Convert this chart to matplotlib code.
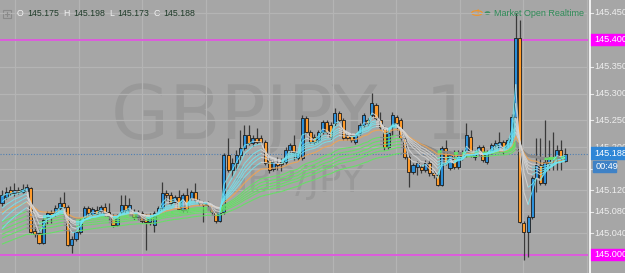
import numpy as np
import matplotlib
matplotlib.use("Agg")
import matplotlib.pyplot as plt
import matplotlib.transforms as mtrans
from matplotlib.collections import LineCollection
from matplotlib.patches import Rectangle, Circle

# ---- data: 1-minute GBPJPY bars ----
opens = [145.097, 145.108, 145.121, 145.115, 145.121, 145.117, 145.119, 145.125, 145.045, 145.041,
         145.022, 145.071, 145.078, 145.078, 145.087, 145.097, 145.089, 145.019, 145.030, 145.043,
         145.069, 145.087, 145.076, 145.084, 145.082, 145.089, 145.080, 145.072, 145.056, 145.080,
         145.093, 145.082, 145.080, 145.071, 145.078, 145.071, 145.061, 145.056, 145.078, 145.087,
         145.115, 145.112, 145.099, 145.108, 145.084, 145.112, 145.106, 145.117, 145.100, 145.097,
         145.093, 145.093, 145.080, 145.063, 145.080, 145.186, 145.158, 145.171, 145.186, 145.199,
         145.223, 145.208, 145.217, 145.217, 145.210, 145.177, 145.160, 145.171, 145.173, 145.173,
         145.195, 145.204, 145.180, 145.180, 145.255, 145.229, 145.219, 145.214, 145.229, 145.247,
         145.242, 145.245, 145.264, 145.251, 145.223, 145.223, 145.210, 145.227, 145.242, 145.251,
         145.260, 145.279, 145.251, 145.236, 145.201, 145.238, 145.257, 145.251, 145.217, 145.182,
         145.154, 145.164, 145.164, 145.158, 145.171, 145.152, 145.149, 145.130, 145.199, 145.162,
         145.180, 145.164, 145.190, 145.186, 145.219, 145.182, 145.190, 145.201, 145.173, 145.191,
         145.204, 145.195, 145.210, 145.199, 145.210, 145.257, 145.403, 145.059, 145.043, 145.071,
         145.143, 145.167, 145.134, 145.171, 145.180, 145.180, 145.195, 145.175]
highs = [145.121, 145.126, 145.128, 145.134, 145.126, 145.132, 145.132, 145.126, 145.052, 145.046,
         145.069, 145.082, 145.084, 145.093, 145.108, 145.117, 145.093, 145.035, 145.046, 145.069,
         145.091, 145.091, 145.089, 145.091, 145.093, 145.097, 145.097, 145.076, 145.076, 145.112,
         145.112, 145.106, 145.086, 145.084, 145.082, 145.076, 145.078, 145.082, 145.091, 145.136,
         145.121, 145.117, 145.112, 145.121, 145.115, 145.125, 145.121, 145.134, 145.104, 145.100,
         145.100, 145.095, 145.082, 145.082, 145.190, 145.217, 145.180, 145.195, 145.232, 145.242,
         145.242, 145.223, 145.236, 145.223, 145.214, 145.180, 145.177, 145.182, 145.180, 145.201,
         145.208, 145.223, 145.195, 145.260, 145.258, 145.232, 145.225, 145.232, 145.251, 145.251,
         145.247, 145.273, 145.268, 145.255, 145.227, 145.227, 145.227, 145.245, 145.264, 145.255,
         145.301, 145.283, 145.266, 145.240, 145.232, 145.266, 145.260, 145.255, 145.221, 145.186,
         145.171, 145.175, 145.167, 145.177, 145.177, 145.156, 145.152, 145.203, 145.214, 145.190,
         145.195, 145.195, 145.195, 145.245, 145.232, 145.195, 145.204, 145.204, 145.195, 145.208,
         145.214, 145.229, 145.214, 145.217, 145.262, 145.450, 145.437, 145.063, 145.074, 145.147,
         145.217, 145.217, 145.251, 145.214, 145.229, 145.204, 145.214, 145.198]
lows = [145.091, 145.104, 145.112, 145.110, 145.113, 145.115, 145.115, 145.041, 145.033, 145.020,
        145.020, 145.058, 145.059, 145.072, 145.084, 145.087, 145.017, 145.004, 145.026, 145.039,
        145.065, 145.074, 145.072, 145.072, 145.078, 145.072, 145.065, 145.052, 145.054, 145.076,
        145.078, 145.078, 145.065, 145.067, 145.059, 145.009, 145.056, 145.043, 145.074, 145.084,
        145.102, 145.093, 145.095, 145.082, 145.080, 145.080, 145.102, 145.099, 145.093, 145.061,
        145.089, 145.076, 145.059, 145.061, 145.076, 145.154, 145.145, 145.158, 145.177, 145.195,
        145.204, 145.203, 145.206, 145.204, 145.167, 145.152, 145.156, 145.158, 145.156, 145.169,
        145.191, 145.177, 145.177, 145.177, 145.225, 145.208, 145.206, 145.210, 145.225, 145.225,
        145.216, 145.240, 145.247, 145.214, 145.214, 145.210, 145.206, 145.223, 145.238, 145.240,
        145.257, 145.251, 145.234, 145.195, 145.197, 145.223, 145.232, 145.214, 145.178, 145.126,
        145.151, 145.149, 145.152, 145.154, 145.147, 145.143, 145.128, 145.128, 145.167, 145.158,
        145.160, 145.160, 145.177, 145.182, 145.182, 145.177, 145.186, 145.173, 145.169, 145.188,
        145.201, 145.191, 145.188, 145.195, 145.206, 145.255, 145.059, 144.991, 144.996, 145.067,
        145.117, 145.130, 145.130, 145.158, 145.158, 145.158, 145.158, 145.173]
closes = [145.112, 145.117, 145.115, 145.121, 145.117, 145.123, 145.126, 145.043, 145.039, 145.022,
          145.065, 145.078, 145.074, 145.087, 145.097, 145.089, 145.019, 145.030, 145.043, 145.065,
          145.087, 145.078, 145.086, 145.076, 145.089, 145.078, 145.072, 145.056, 145.072, 145.093,
          145.084, 145.093, 145.071, 145.078, 145.063, 145.061, 145.072, 145.078, 145.087, 145.115,
          145.112, 145.097, 145.108, 145.086, 145.112, 145.084, 145.117, 145.102, 145.097, 145.093,
          145.097, 145.080, 145.063, 145.078, 145.186, 145.158, 145.171, 145.186, 145.199, 145.223,
          145.208, 145.217, 145.210, 145.210, 145.171, 145.158, 145.173, 145.167, 145.169, 145.195,
          145.204, 145.191, 145.190, 145.255, 145.229, 145.210, 145.210, 145.229, 145.247, 145.229,
          145.219, 145.264, 145.251, 145.217, 145.217, 145.214, 145.223, 145.242, 145.260, 145.245,
          145.283, 145.255, 145.238, 145.201, 145.227, 145.260, 145.245, 145.217, 145.182, 145.154,
          145.167, 145.171, 145.158, 145.171, 145.152, 145.149, 145.130, 145.199, 145.171, 145.186,
          145.164, 145.191, 145.182, 145.223, 145.186, 145.190, 145.201, 145.177, 145.191, 145.204,
          145.208, 145.210, 145.191, 145.214, 145.257, 145.403, 145.061, 145.043, 145.071, 145.143,
          145.167, 145.134, 145.173, 145.180, 145.182, 145.195, 145.180, 145.188]

# guppy-style EMA ribbons; seeds = values at the left edge of the chart
short_periods = [3, 5, 8, 10, 12, 15]
short_seeds = [145.106, 145.093, 145.080, 145.067, 145.054, 145.039]
long_periods = [30, 35, 40, 45, 50, 60]
long_seeds = [145.058, 145.050, 145.043, 145.035, 145.028, 145.017]
mid_period, mid_seed = 20, 145.076

tick_prices = [145.45, 145.40, 145.35, 145.30, 145.25, 145.20, 145.16, 145.12, 145.08, 145.04, 145.00]
hidden_ticks = [145.16]          # label sits under the countdown box
level_lines = [145.40, 145.00]
last_price = 145.188
countdown = "00:49"
ohlc_labels = ["O", "H", "L", "C"]
ohlc_values = ["145.175", "145.198", "145.173", "145.188"]

BG, GRID = "#a6a6a6", "#b4b4b4"
UP, DN = "#2b8fd9", "#ff9b2b"
MAG, BLUE = "#ff00ff", "#2f86d6"
FONT = "Liberation Sans"


def ema(vals, n, seed):
    a, e, out = 2.0 / (n + 1), seed, []
    for v in vals:
        e += a * (v - e)
        out.append(e)
    return np.array(out)


def ribbon(ax, y, up_col, dn_col, lw=0.75, alpha=0.9, z=3):
    xs = np.arange(len(y))
    segs = [[(xs[i], y[i]), (xs[i + 1], y[i + 1])] for i in range(len(y) - 1)]
    cols = [up_col if y[i + 1] >= y[i] else dn_col for i in range(len(y) - 1)]
    ax.add_collection(LineCollection(segs, colors=cols, linewidths=lw, alpha=alpha, zorder=z))


W, H = 625, 273
fig = plt.figure(figsize=(W / 100, H / 100), dpi=100)
fig.patch.set_facecolor(BG)
ax = fig.add_axes([0, 0, 588 / W, 1])
ax.axis("off")
ax.set_xlim(-0.49, 142.58)
ax.set_ylim(144.9665, 145.474)

o, h, l, c = map(np.array, (opens, highs, lows, closes))
x = np.arange(len(c))

# grid
for p in tick_prices:
    ax.axhline(p, color=GRID, lw=0.9, zorder=0)
for gx in np.arange(3.2, 143, 15.45):
    ax.axvline(gx, color=GRID, lw=0.9, zorder=0)

# watermark
fig.text(111 / W, 1 - 139 / H, "GBPJPY, 1", fontsize=54, color="#999999",
         ha="left", va="baseline", zorder=0.5)
fig.text(292 / W, 1 - 192 / H, "GBP/JPY", fontsize=27, color="#999999",
         ha="center", va="baseline", zorder=0.5)
ax.set_zorder(1)
ax.patch.set_alpha(0)

# level lines + last price
for p in level_lines:
    ax.axhline(p, color="#e055e0", lw=1.3, zorder=1)
ax.axhline(last_price, color="#4f7fb2", lw=0.8, ls=(0, (1, 1.5)), zorder=1)

# candles
ax.vlines(x, l, h, color="#3a3a3a", lw=0.9, zorder=2)
bot = np.minimum(o, c)
ht = np.maximum(np.abs(c - o), 0.0012)
ax.bar(x, ht, bottom=bot, width=0.74, color=np.where(c >= o, UP, DN),
       edgecolor="#1c1c1c", linewidth=0.6, zorder=2.5)

# moving averages
for n, s in zip(long_periods, long_seeds):
    ribbon(ax, ema(closes, n, s), "#66e066", "#8a8a8a", lw=0.8, alpha=1.0, z=3)
ribbon(ax, ema(closes, mid_period, mid_seed), "#eba457", "#eba457", lw=0.9, z=3.2)
for n, s in zip(short_periods, short_seeds):
    ribbon(ax, ema(closes, n, s), "#6fe6f2", "#d6d6d6", alpha=0.85, z=3.4)

# right price scale
tr = mtrans.blended_transform_factory(fig.transFigure, ax.transData)
fig.add_artist(plt.Line2D([589.5 / W, 589.5 / W], [0, 1], color="white", lw=1.2))
for p in tick_prices:
    ax.plot([590 / W, 592.5 / W], [p, p], color="#e8e8e8", lw=0.8, transform=tr, clip_on=False)
    if p in hidden_ticks:
        continue
    ax.text(594 / W, p, f"{p:.3f}", transform=tr, fontsize=6.6, family=FONT,
            color="#eeeeee", va="center", ha="left", clip_on=False)
box_h = 11 / 538
for p in level_lines:
    ax.add_patch(Rectangle((590 / W, p - box_h / 2), 40 / W, box_h, transform=tr,
                           color=MAG, clip_on=False, zorder=5))
    ax.text(594 / W, p, f"{p:.3f}", transform=tr, fontsize=6.6, family=FONT,
            color="white", va="center", ha="left", clip_on=False, zorder=6)
ax.add_patch(Rectangle((590 / W, last_price - 5.5 / 538), 40 / W, 12 / 538, transform=tr,
                       color=BLUE, clip_on=False, zorder=5))
ax.text(594 / W, last_price + 0.5 / 538, f"{last_price:.3f}", transform=tr, fontsize=6.6,
        family=FONT, color="white", va="center", ha="left", clip_on=False, zorder=6)
cd_p = last_price - 13 / 538
ax.add_patch(Rectangle((593 / W, cd_p - 5.5 / 538), 23 / W, 11 / 538, transform=tr,
                       color="#3f82c6", clip_on=False, zorder=5))
ax.text(595.5 / W, cd_p, countdown, transform=tr, fontsize=6.6, family=FONT,
        color="white", va="center", ha="left", clip_on=False, zorder=6)

# top-left OHLC legend
ty = 1 - 14 / H
fig.add_artist(Rectangle((3 / W, 1 - 18 / H), 8 / W, 8 / H, fill=False, ec="#8a8a8a", lw=0.8))
fig.add_artist(plt.Line2D([5 / W, 9 / W], [1 - 14 / H] * 2, color="#8a8a8a", lw=0.8))
fig.add_artist(plt.Line2D([7 / W] * 2, [1 - 16 / H, 1 - 12 / H], color="#8a8a8a", lw=0.8))
for lab, val, lx, vx in zip(ohlc_labels, ohlc_values, [17, 63, 109, 153], [27, 73, 117, 163]):
    fig.text(lx / W, ty, lab, fontsize=6.3, family=FONT, color="#f2f2f2", va="center")
    fig.text(vx / W, ty, val, fontsize=6.3, family=FONT, color="#1f3b29", va="center")

# top-right status
fig.add_artist(Circle((477 / W, 1 - 13 / H), 0.0085, transform=fig.transFigure,
                      fill=False, ec="#f7931e", lw=0.8))
fig.text(477 / W, 1 - 13 / H, "!", fontsize=5.5, family=FONT, color="#f7931e",
         ha="center", va="center")
fig.add_artist(Circle((487.5 / W, 1 - 13 / H), 0.0035, transform=fig.transFigure,
                      color="#2e8b57"))
fig.text(494 / W, 1 - 13 / H, "Market Open Realtime", fontsize=6.5, family=FONT,
         color="#2e8b57", va="center")

fig.savefig("out.png", dpi=100, facecolor=BG)
